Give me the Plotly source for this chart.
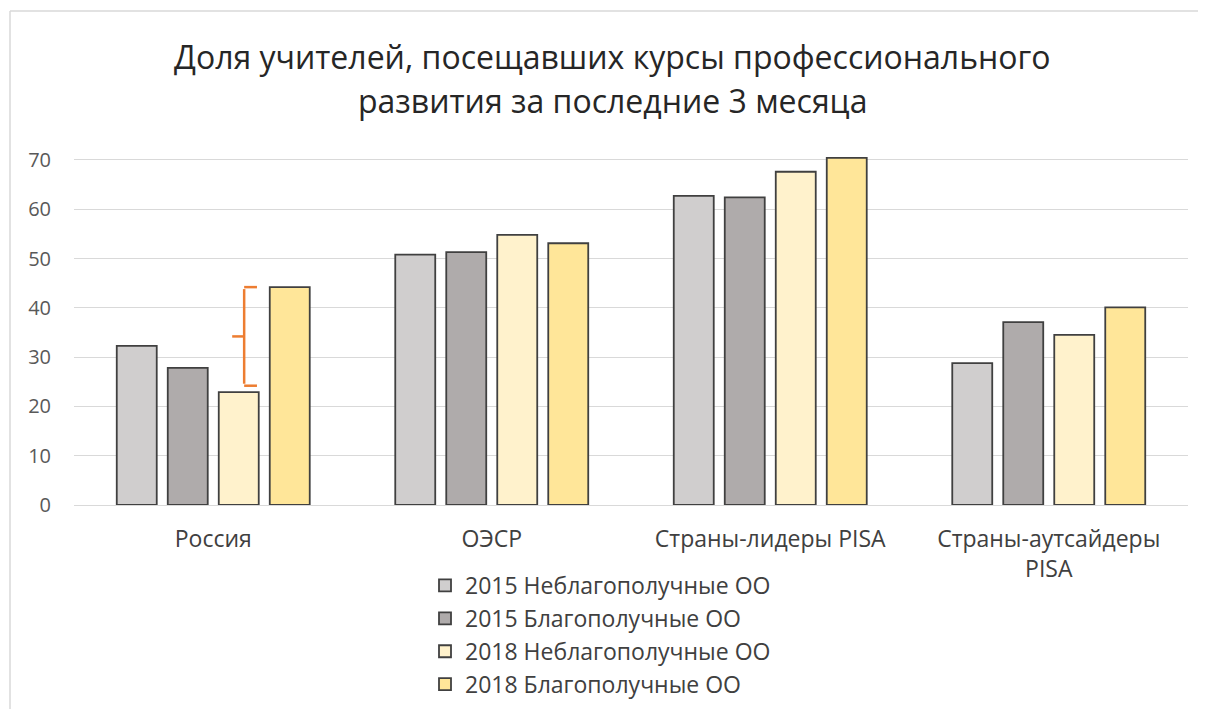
import plotly.graph_objects as go

categories = ["Россия", "ОЭСР", "Страны-лидеры PISA", "Страны-аутсайдеры<br>PISA"]
series_names = ["2015 Неблагополучные ОО", "2015 Благополучные ОО",
                "2018 Неблагополучные ОО", "2018 Благополучные ОО"]
v2015_low = [32.3, 50.8, 62.7, 28.8]
v2015_high = [27.8, 51.3, 62.4, 37.1]
v2018_low = [22.9, 54.8, 67.6, 34.5]
v2018_high = [44.2, 53.1, 70.4, 40.1]
series_values = [v2015_low, v2015_high, v2018_low, v2018_high]
colors = ["#D0CECE", "#AFABAB", "#FFF2CC", "#FFE699"]
y_ticks = [0, 10, 20, 30, 40, 50, 60, 70]

title_line1 = "Доля учителей, посещавших курсы профессионального"
title_line2 = "развития за последние 3 месяца"

FONT = "Open Sans"

fig = go.Figure()
for name, vals, col in zip(series_names, series_values, colors):
    fig.add_trace(go.Bar(
        x=categories, y=vals, name=name,
        marker=dict(color=col, line=dict(color="#404040", width=1.8)),
    ))

# page has an 8px body margin: figure coords = page coords - 8
OFF = 8
W, H = 1206 - OFF, 709 - OFF
plot_l, plot_r, plot_t, plot_b = 74 - OFF, 1188 - OFF, 156 - OFF, 505 - OFF
L, R, T, B = plot_l, W - plot_r, plot_t, H - plot_b
pw = plot_r - plot_l
ph = plot_b - plot_t


def px(xpage):
    return (xpage - OFF - plot_l) / pw


def py(ypage):
    return (plot_b - (ypage - OFF)) / ph


fig.update_layout(
    width=W, height=H,
    margin=dict(l=L, r=R, t=T, b=B, autoexpand=False),
    paper_bgcolor="white", plot_bgcolor="white",
    barmode="group", bargap=0.2675, bargroupgap=0.216,
    showlegend=True,
    legend=dict(
        x=px(425), y=py(564),
        xanchor="left", yanchor="top",
        font=dict(family=FONT, size=23, color="#404040"),
        bgcolor="rgba(0,0,0,0)", itemwidth=30,
    ),
    font=dict(family=FONT, color="#404040"),
)
fig.update_xaxes(
    type="category", showgrid=False, showline=False, zeroline=False, automargin=False,
    ticks="", tickfont=dict(family=FONT, size=23, color="#404040"),
    ticklabelstandoff=18,
)
fig.update_yaxes(
    range=[0, 70.8], tickvals=y_ticks, showgrid=True, gridcolor="#D9D9D9", automargin=False,
    gridwidth=1.3, zeroline=True, zerolinecolor="#D9D9D9", zerolinewidth=1.3,
    showline=False, ticks="", tickfont=dict(family=FONT, size=20, color="#595959"),
    ticklabelstandoff=22,
)

fig.add_annotation(text=title_line1, xref="paper", yref="paper",
                   x=px(612), y=py(57), xanchor="center", yanchor="middle",
                   showarrow=False, font=dict(family=FONT, size=32, color="#262626"))
fig.add_annotation(text=title_line2, xref="paper", yref="paper",
                   x=px(612), y=py(100), xanchor="center", yanchor="middle",
                   showarrow=False, font=dict(family=FONT, size=32, color="#262626"))

# outer chart border (left and top edges)
bx = px(10)
by = py(11)
fig.add_shape(type="line", xref="paper", yref="paper", x0=bx, x1=bx, y0=by, y1=py(760),
              line=dict(color="#D9D9D9", width=1.5))
fig.add_shape(type="line", xref="paper", yref="paper", x0=bx, x1=px(1260), y0=by, y1=by,
              line=dict(color="#D9D9D9", width=1.5))

# orange bracket (Russia, 2018 gap)
orange = dict(color="#ED7D31", width=2.5)
xv, xs, xm = 0.111, 0.157, 0.068
ytop, ybot = 44.2, 24.2
ymid = (ytop + ybot) / 2
fig.add_shape(type="line", xref="x", yref="y", x0=xv, x1=xv, y0=ytop - 0.4, y1=ybot + 0.4, line=orange)
fig.add_shape(type="line", xref="x", yref="y", x0=xv, x1=xs, y0=ytop, y1=ytop, line=orange)
fig.add_shape(type="line", xref="x", yref="y", x0=xv, x1=xs, y0=ybot, y1=ybot, line=orange)
fig.add_shape(type="line", xref="x", yref="y", x0=xm, x1=xv, y0=ymid, y1=ymid, line=orange)

fig.write_html("out.html")
